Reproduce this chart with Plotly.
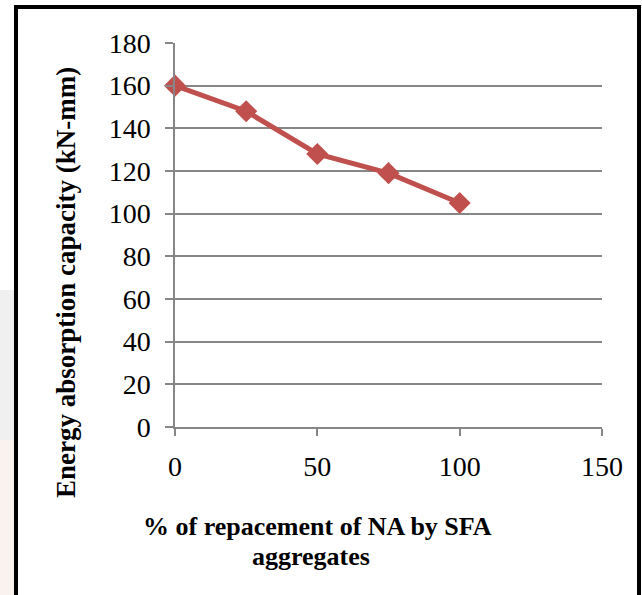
import plotly.graph_objects as go

replacement_pct = [0, 25, 50, 75, 100]
energy_absorption = [160, 148, 128, 119, 105]
x_ticks = [0, 50, 100, 150]
y_ticks = [0, 20, 40, 60, 80, 100, 120, 140, 160, 180]

W, H = 642, 595
L, R, T, B = 175, 40, 43, 168
pw, ph = W - L - R, H - T - B

def px(x):
    return (x - L) / pw

def py(y):
    return (H - B - y) / ph

fig = go.Figure()
fig.add_trace(go.Scatter(
    x=replacement_pct, y=energy_absorption, mode="lines+markers",
    line=dict(color="#C0504D", width=5),
    marker=dict(symbol="diamond", size=17, color="#C0504D"),
    showlegend=False, cliponaxis=False,
))

font_tick = dict(family="Liberation Serif", size=28, color="#000000")
fig.update_xaxes(
    range=[0, 150], tickvals=x_ticks, showgrid=False, zeroline=False,
    showline=True, linecolor="#868686", linewidth=1.5,
    ticks="outside", ticklen=7, tickcolor="#868686", tickwidth=1.5,
    tickfont=font_tick, ticklabelstandoff=7,
)
fig.update_yaxes(
    range=[0, 180], tickvals=y_ticks, showgrid=True, gridcolor="#868686", gridwidth=1.5,
    zeroline=False, showline=True, linecolor="#868686", linewidth=1.5,
    ticks="outside", ticklen=8, tickcolor="#868686", tickwidth=1.5,
    tickfont=font_tick, ticklabelstandoff=9,
)

title_font = dict(family="Liberation Serif", size=26, color="#000000")
fig.add_annotation(
    text="<b>% of repacement of NA by SFA</b>", xref="paper", yref="paper",
    x=px(317), y=py(526), showarrow=False, font=title_font, align="center",
    xanchor="center", yanchor="middle",
)
fig.add_annotation(
    text="<b>aggregates</b>", xref="paper", yref="paper",
    x=px(311), y=py(556), showarrow=False, font=title_font, align="center",
    xanchor="center", yanchor="middle",
)
fig.add_annotation(
    text="<b>Energy absorption capacity (kN-mm)</b>", xref="paper", yref="paper",
    x=px(66), y=py(283), showarrow=False,
    font=dict(family="Liberation Serif", size=27, color="#000000"), textangle=-90,
    xanchor="center", yanchor="middle",
)

# faint background outside the chart border
fig.add_shape(type="rect", xref="paper", yref="paper", x0=px(0), x1=px(14),
              y0=py(290), y1=py(440), fillcolor="#f0f0f0", line=dict(width=0), layer="below")
fig.add_shape(type="rect", xref="paper", yref="paper", x0=px(0), x1=px(14),
              y0=py(440), y1=py(595), fillcolor="#faf2ee", line=dict(width=0), layer="below")
# chart border
fig.add_shape(type="rect", xref="paper", yref="paper", x0=px(16), x1=px(639),
              y0=py(7), y1=py(620), line=dict(color="#000000", width=4), fillcolor="rgba(0,0,0,0)")

fig.update_layout(
    width=W, height=H, margin=dict(l=L, r=R, t=T, b=B),
    paper_bgcolor="#ffffff", plot_bgcolor="#ffffff",
)
fig.write_html("out.html")
